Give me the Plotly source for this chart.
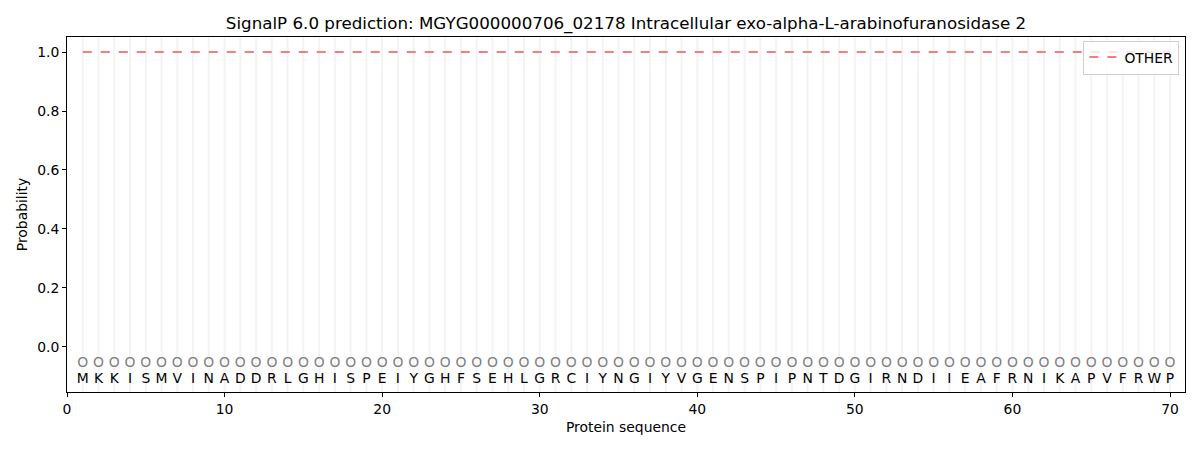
import plotly.graph_objects as go

sequence = list("MKKISMVINADDRLGHISPEIYGHFSEHLGRCIYNGIYVGENSPIPNTDGIRNDIIEAFRNIKAPVFRWP")
positions = list(range(1, len(sequence) + 1))
other_prob = [1.0] * len(sequence)
labels = ["O"] * len(sequence)
x_ticks = [0, 10, 20, 30, 40, 50, 60, 70]
y_ticks = [0.0, 0.2, 0.4, 0.6, 0.8, 1.0]

fig = go.Figure()

# vertical light lines at each residue
vx, vy = [], []
for p in positions:
    vx += [p, p, None]
    vy += [-0.2, 1.1, None]
fig.add_trace(go.Scatter(x=vx, y=vy, mode="lines", line=dict(color="#f3f3f3", width=2),
                         showlegend=False, hoverinfo="skip"))

fig.add_trace(go.Scatter(x=positions, y=other_prob, mode="lines", name="OTHER",
                         line=dict(color="#f08080", width=2, dash="dash")))

fig.add_trace(go.Scatter(x=positions, y=[-0.057] * len(positions), mode="text", text=labels,
                         textfont=dict(family="DejaVu Sans", size=13.9, color="#808080"),
                         showlegend=False, hoverinfo="skip"))
fig.add_trace(go.Scatter(x=positions, y=[-0.11] * len(positions), mode="text", text=sequence,
                         textfont=dict(family="DejaVu Sans", size=13.9, color="#000000"),
                         showlegend=False, hoverinfo="skip"))

fig.update_layout(
    width=1200, height=450,
    margin=dict(l=59, r=23, t=29, b=66),
    paper_bgcolor="white", plot_bgcolor="white",
    font=dict(family="DejaVu Sans", size=13.9, color="black"),
    title=dict(text="SignalP 6.0 prediction: MGYG000000706_02178 Intracellular exo-alpha-L-arabinofuranosidase 2",
               x=0.5, xanchor="center", xref="paper", y=1 - 15 / 450, yanchor="middle", font=dict(size=16.7)),
    legend=dict(x=0.995, y=0.99, xanchor="right", yanchor="top", bordercolor="#d0d0d0", borderwidth=1,
                bgcolor="rgba(255,255,255,0.8)", font=dict(size=13.9)),
    xaxis=dict(range=[0, 70.95], tickvals=x_ticks, showgrid=False, zeroline=False,
               showline=True, linecolor="black", linewidth=1, mirror=True,
               ticks="outside", ticklen=4, tickcolor="black",
               title=dict(text="Protein sequence", font=dict(size=13.9), standoff=6)),
    yaxis=dict(range=[-0.153, 1.051], tickvals=y_ticks, tickformat=".1f", showgrid=False, zeroline=False,
               showline=True, linecolor="black", linewidth=1, mirror=True,
               ticks="outside", ticklen=4, tickcolor="black",
               title=dict(text="Probability", font=dict(size=13.9), standoff=6)),
)

fig.write_html("out.html")
